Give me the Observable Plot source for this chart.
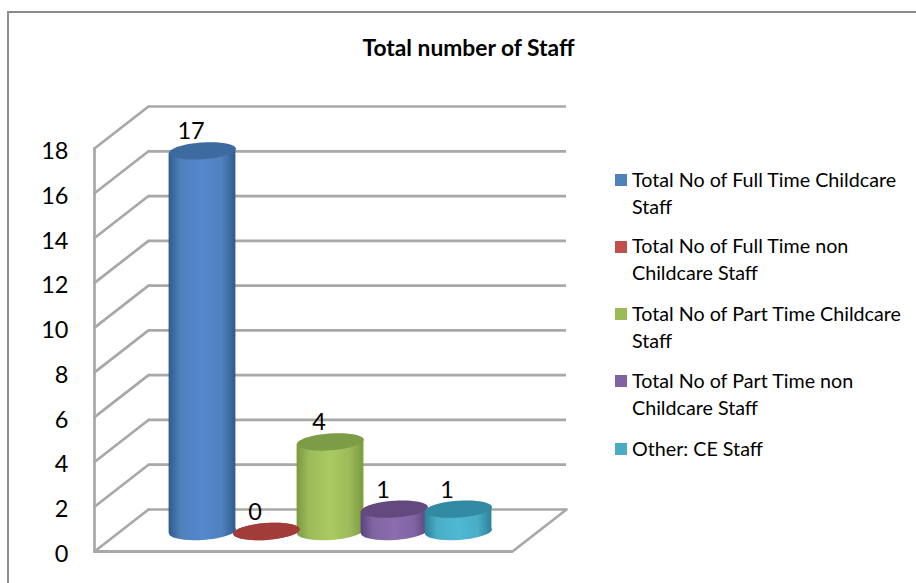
<!DOCTYPE html>
<html>
<head>
<meta charset="utf-8">
<script src="https://cdn.jsdelivr.net/npm/d3@7"></script>
<script src="https://cdn.jsdelivr.net/npm/@observablehq/plot@0.6"></script>
<style>
  html, body { margin: 0; padding: 0; background: #fff; overflow: hidden; }
  #page { position: relative; width: 916px; height: 583px; font-family: Lato, sans-serif; color: #000; }
  #page svg { position: absolute; left: 0; top: 0; display: block; }
  #border { position: absolute; left: 7px; top: 11px; right: 0; bottom: 0; border-left: 2.5px solid #8f8f8f; border-top: 2px solid #8a8a8a; }
  #title { position: absolute; left: 0; width: 937px; top: 34px; text-align: center; font-size: 22.8px; font-weight: 700; line-height: 26px; }
  .item { position: absolute; left: 632px; width: 284px; font-size: 19.7px; line-height: 27px; white-space: pre; }
  .swatch { position: absolute; left: 615px; width: 12px; height: 12px; }
</style>
</head>
<body>
<div id="page">
  <div id="border"></div>
  <div id="title">Total number of Staff</div>
  <div id="chart"></div>
</div>
<script>
const names = [
  "Total No of Full Time Childcare Staff",
  "Total No of Full Time non Childcare Staff",
  "Total No of Part Time Childcare Staff",
  "Total No of Part Time non Childcare Staff",
  "Other: CE Staff"
];
const legendLines = [
  ["Total No of Full Time Childcare", "Staff"],
  ["Total No of Full Time non", "Childcare Staff"],
  ["Total No of Part Time Childcare", "Staff"],
  ["Total No of Part Time non", "Childcare Staff"],
  ["Other: CE Staff"]
];
const values = [17, 0, 4, 1, 1];
const yTicks = [0, 2, 4, 6, 8, 10, 12, 14, 16, 18];
const legendColors = ["#4F81BD", "#C0504D", "#9BBB59", "#8064A2", "#4BACC6"];
const sideEdge = ["#2F5A8E", "#8E3431", "#7A9A3E", "#5A4480", "#2C8198"];
const sideLight = ["#5588CC", "#C0504D", "#A9CA60", "#8B6DB0", "#4FB8D4"];
const topColors = ["#3D6A9F", "#A23C39", "#7D9C46", "#64497F", "#318AA2"];

const rows = names.map((name, i) => ({name, value: values[i], i}));

const gridColor = "#A8A8A8";
const gridWidth = 2.7;
const depthX = 54, depthY = -42;
const depthLen = Math.hypot(depthX, depthY);
const depthAngle = Math.atan2(depthX, -depthY) * 180 / Math.PI;
const baseDy = -20;
const rx = 33.5, ry = 8.4, tilt = -4 * Math.PI / 180;
const tiltShift = rx * Math.sin(-tilt);

const ellipse = {
  draw(ctx) {
    const k = 0.5523;
    const p = (a, b) => [a * rx * Math.cos(tilt) - b * ry * Math.sin(tilt), a * rx * Math.sin(tilt) + b * ry * Math.cos(tilt)];
    ctx.moveTo(...p(1, 0));
    ctx.bezierCurveTo(...p(1, k), ...p(k, 1), ...p(0, 1));
    ctx.bezierCurveTo(...p(-k, 1), ...p(-1, k), ...p(-1, 0));
    ctx.bezierCurveTo(...p(-1, -k), ...p(-k, -1), ...p(0, -1));
    ctx.bezierCurveTo(...p(k, -1), ...p(1, -k), ...p(1, 0));
    ctx.closePath();
  }
};
const spine = {
  draw(ctx, l) { ctx.moveTo(0, 0); ctx.lineTo(0, -l); }
};

const defs = () => {
  const d = d3.create("svg:defs");
  names.forEach((_, i) => {
    const g = d.append("linearGradient").attr("id", `side${i}`).attr("x1", 0).attr("x2", 1).attr("y1", 0).attr("y2", 0);
    [[0, sideEdge[i]], [0.18, legendColors[i]], [0.5, sideLight[i]], [0.8, legendColors[i]], [1, sideEdge[i]]]
      .forEach(([o, c]) => g.append("stop").attr("offset", o).attr("stop-color", c));
  });
  return d.node();
};

// Turn each bar rectangle into the tilted side of a cylinder.
const tiltBars = (I, scales, values, dims, ctx, next) => {
  const g = next(I, scales, values, dims, ctx);
  d3.select(g).selectAll("rect").each(function () {
    const r = d3.select(this);
    const x = +r.attr("x"), y = +r.attr("y"), w = +r.attr("width"), h = +r.attr("height");
    d3.select(this.parentNode).insert("path", () => this)
      .attr("d", `M${x},${y + tiltShift}L${x + w},${y - tiltShift}L${x + w},${y + h - tiltShift}L${x},${y + h + tiltShift}Z`)
      .attr("fill", r.attr("fill"));
    r.remove();
  });
  return g;
};

const plot = Plot.plot({
  width: 916,
  height: 583,
  marginLeft: 94,
  marginRight: 404,
  marginTop: 148,
  marginBottom: 32,
  style: {background: "transparent", fontFamily: "Lato, sans-serif", color: "#000"},
  x: {type: "band", domain: names, range: [169, 490], padding: 0, axis: null},
  y: {domain: [0, 18], label: null, axis: null},
  marks: [
    defs,
    Plot.ruleY(yTicks, {stroke: gridColor, strokeWidth: gridWidth, dx: depthX, dy: depthY}),
    Plot.vector(yTicks, {y: d => d, frameAnchor: "left", length: depthLen, rotate: depthAngle, anchor: "start", shape: spine, stroke: gridColor, strokeWidth: gridWidth}),
    Plot.vector([0], {y: d => d, frameAnchor: "right", length: depthLen, rotate: depthAngle, anchor: "start", shape: spine, stroke: gridColor, strokeWidth: gridWidth}),
    Plot.frame({anchor: "left", stroke: gridColor, strokeWidth: gridWidth, strokeOpacity: 1}),
    Plot.ruleY([0], {stroke: gridColor, strokeWidth: gridWidth + 0.4}),
    Plot.axisY({ticks: yTicks, tickSize: 0, tickPadding: 26, fontSize: 23.5, tickFormat: String, dy: 3, label: null}),
    Plot.dot(rows, {x: "name", y: () => 0, r: 1, symbol: ellipse, dy: baseDy, fill: {value: d => `url(#side${d.i})`, scale: null}}),
    Plot.barY(rows, {x: "name", y: "value", dy: baseDy, insetLeft: -1.4, insetRight: -1.4, fill: {value: d => `url(#side${d.i})`, scale: null}, render: tiltBars}),
    Plot.dot(rows, {x: "name", y: "value", r: 1, symbol: ellipse, dy: baseDy, fill: {value: d => topColors[d.i], scale: null}}),
    Plot.text(rows, {x: "name", y: "value", text: d => String(d.value), dx: -11.5, dy: baseDy - 19, fontSize: 23.5, fill: "#000"})
  ]
});
document.getElementById("chart").appendChild(plot);

const page = document.getElementById("page");
const swatchY = [180, 246.5, 314, 381, 449];
legendLines.forEach((lines, i) => {
  const s = document.createElement("div");
  s.className = "swatch";
  s.style.top = (swatchY[i] - 6) + "px";
  s.style.background = legendColors[i];
  page.appendChild(s);
  const t = document.createElement("div");
  t.className = "item";
  t.style.top = (swatchY[i] - 14.5) + "px";
  t.textContent = lines.join("\n");
  page.appendChild(t);
});
</script>
</body>
</html>
